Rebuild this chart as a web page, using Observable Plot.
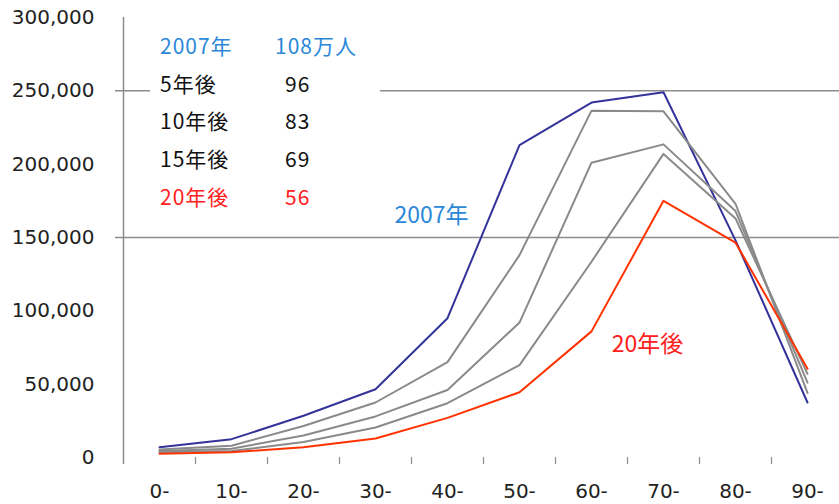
<!DOCTYPE html>
<html><head><meta charset="utf-8">
<script src="https://cdn.jsdelivr.net/npm/d3@7"></script>
<script src="https://cdn.jsdelivr.net/npm/@observablehq/plot@0.6"></script>
<style>
body{margin:0;background:#fff}
#wrap{position:relative;width:839px;height:504px}
#legend{position:absolute;left:150px;top:28px;width:230px;height:186px;background:#fff;font-family:"Noto Sans CJK JP","Noto Sans",sans-serif;font-size:21px;letter-spacing:1px}
#legend span{position:absolute;height:24px;line-height:24px;white-space:nowrap}
</style></head><body><div id="wrap"></div>
<script>
const ages = ["0-","10-","20-","30-","40-","50-","60-","70-","80-","90-"];
const y2007 = [7000, 12500, 28500, 46500, 95000, 213000, 242000, 249000, 148000, 37500];
const y5 = [5500, 8000, 21500, 37500, 65000, 138000, 236500, 236000, 173000, 44000];
const y10 = [4500, 6000, 15000, 28000, 46000, 92000, 201000, 213500, 168000, 51000];
const y15 = [3500, 4500, 10500, 20500, 37000, 63000, 133500, 207000, 163000, 57000];
const y20 = [2500, 3500, 7000, 13000, 27000, 44500, 86000, 175000, 146500, 60500];
const seriesNames = ["2007年","5年後","10年後","15年後","20年後"];
const seriesColors = ["#333399","#8a8a8a","#8a8a8a","#8a8a8a","#ff3300"];
const legendLabels = ["2007年","5年後","10年後","15年後","20年後"];
const legendTotals = ["108万人","96","83","69","56"];
const legendColors = ["#2b88d8","#111","#111","#111","#ff2020"];
const yTicks = [0,50000,100000,150000,200000,250000,300000];
const gridValues = [150000,250000];
const annoText = ["2007年","20年後"];
const annoAge = ["40-","70-"];
const annoValue = [165000, 77000];
const annoColors = ["#2b88d8","#ff2020"];

const allSeries = [y2007,y5,y10,y15,y20];
const rows = [];
allSeries.forEach((vals, s) => vals.forEach((v, i) => rows.push({series: seriesNames[s], idx: i + 0.5, value: v})));
const annos = annoText.map((t, i) => ({text: t, idx: ages.indexOf(annoAge[i]) + 0.5, value: annoValue[i], color: annoColors[i]}));

const chart = Plot.plot({
  width: 839, height: 504,
  marginLeft: 115, marginRight: 0, marginTop: 17, marginBottom: 47,
  style: {fontFamily: "DejaVu Sans", background: "#fff"},
  x: {type: "linear", domain: [0, ages.length], range: [123, 843], axis: null},
  y: {domain: [0, 300000], axis: null},
  color: {domain: seriesNames, range: seriesColors},
  marks: [
    Plot.ruleY(gridValues, {stroke: "#8c8c8c", strokeWidth: 1.5}),
    Plot.ruleX([0], {stroke: "#8c8c8c", strokeWidth: 1.5, insetBottom: -7}),
    Plot.axisX({ticks: d3.range(1, ages.length + 1), tickSize: 7, tickFormat: () => "", label: null, stroke: "#8c8c8c", strokeWidth: 1.2}),
    Plot.axisX({ticks: ages.map((a, i) => i + 0.5), tickSize: 0, tickPadding: 26, tickFormat: d => ages[Math.floor(d)], label: null, fontSize: 20, fill: "#222", lineAnchor: "top"}),
    Plot.axisY({ticks: yTicks, tickSize: 0, tickPadding: 21, tickFormat: d3.format(","), label: null, fontSize: 20, fill: "#222"}),
    Plot.line(rows, {x: "idx", y: "value", z: "series", stroke: "series", strokeWidth: 2}),
    Plot.text(annos, {x: "idx", y: "value", text: "text", fill: "color", fontSize: 23, dx: -16, fontFamily: "Noto Sans CJK JP", style: "letter-spacing:1px"})
  ]
});
const wrap = document.getElementById("wrap");
wrap.appendChild(chart);
const lg = document.createElement("div");
lg.id = "legend";
legendLabels.forEach((lab, i) => {
  const top = 5 + i * 37.7;
  const a = document.createElement("span");
  a.textContent = lab; a.style.left = "10px"; a.style.top = top + "px"; a.style.color = legendColors[i];
  const b = document.createElement("span");
  b.textContent = legendTotals[i]; b.style.left = (i === 0 ? 125 : 135) + "px"; b.style.top = top + "px"; b.style.color = legendColors[i];
  lg.appendChild(a); lg.appendChild(b);
});
wrap.appendChild(lg);
</script></body></html>
